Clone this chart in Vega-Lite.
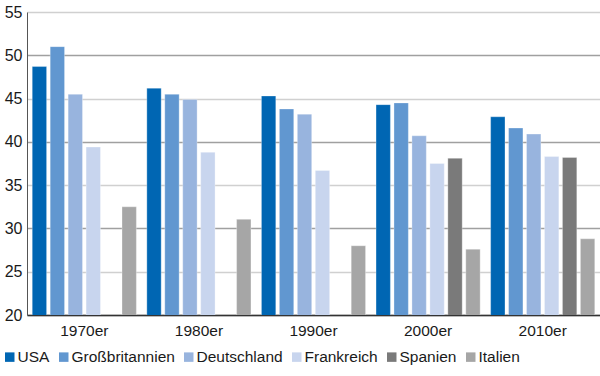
{
  "$schema": "https://vega.github.io/schema/vega-lite/v6.json",
  "width": 573,
  "height": 303,
  "autosize": "none",
  "padding": {"left": 27, "top": 12, "right": 0, "bottom": 61},
  "background": "white",
  "config": {
    "font": "Liberation Sans",
    "view": {"stroke": null},
    "axis": {"labelFont": "Liberation Sans", "labelFontSize": 15.5, "labelColor": "#1a1a1a", "ticks": false, "domainColor": "#333", "domainWidth": 1.5}
  },
  "data": {
    "values": [
      {"decade": "1970er", "country": "USA", "value": 48.7},
      {"decade": "1970er", "country": "Großbritannien", "value": 51.0},
      {"decade": "1970er", "country": "Deutschland", "value": 45.5},
      {"decade": "1970er", "country": "Frankreich", "value": 39.4},
      {"decade": "1970er", "country": "Italien", "value": 32.5},
      {"decade": "1980er", "country": "USA", "value": 46.2},
      {"decade": "1980er", "country": "Großbritannien", "value": 45.5},
      {"decade": "1980er", "country": "Deutschland", "value": 44.9},
      {"decade": "1980er", "country": "Frankreich", "value": 38.8},
      {"decade": "1980er", "country": "Italien", "value": 31.05},
      {"decade": "1990er", "country": "USA", "value": 45.3},
      {"decade": "1990er", "country": "Großbritannien", "value": 43.8},
      {"decade": "1990er", "country": "Deutschland", "value": 43.2},
      {"decade": "1990er", "country": "Frankreich", "value": 36.7},
      {"decade": "1990er", "country": "Italien", "value": 28.0},
      {"decade": "2000er", "country": "USA", "value": 44.3},
      {"decade": "2000er", "country": "Großbritannien", "value": 44.5},
      {"decade": "2000er", "country": "Deutschland", "value": 40.7},
      {"decade": "2000er", "country": "Frankreich", "value": 37.5},
      {"decade": "2000er", "country": "Spanien", "value": 38.1},
      {"decade": "2000er", "country": "Italien", "value": 27.6},
      {"decade": "2010er", "country": "USA", "value": 42.9},
      {"decade": "2010er", "country": "Großbritannien", "value": 41.6},
      {"decade": "2010er", "country": "Deutschland", "value": 40.9},
      {"decade": "2010er", "country": "Frankreich", "value": 38.3},
      {"decade": "2010er", "country": "Spanien", "value": 38.2},
      {"decade": "2010er", "country": "Italien", "value": 28.8}
    ]
  },
  "mark": {"type": "bar", "clip": true, "stroke": "white", "strokeWidth": 0.5, "strokeOpacity": 0.6},
  "encoding": {
    "x": {
      "field": "decade", "type": "nominal", "title": null,
      "scale": {"paddingInner": 0.06, "paddingOuter": 0.03},
      "axis": {"labelAngle": 0, "labelPadding": 8, "domain": true}
    },
    "xOffset": {
      "field": "country", "type": "nominal",
      "sort": ["USA", "Großbritannien", "Deutschland", "Frankreich", "Spanien", "Italien"],
      "scale": {"paddingInner": 0.2, "paddingOuter": 0.1}
    },
    "y": {
      "field": "value", "type": "quantitative", "title": null,
      "scale": {"domain": [20, 55], "nice": false, "zero": false},
      "axis": {
        "values": [20, 25, 30, 35, 40, 45, 50, 55],
        "labelPadding": 5,
        "labelFontSize": 16,
        "grid": true,
        "gridColor": {"condition": {"test": "datum.value % 10 === 0", "value": "#a0a0a0"}, "value": "#d0d0d0"},
        "gridWidth": 1.5,
        "domainColor": "#555",
        "domainWidth": 1
      }
    },
    "color": {
      "field": "country", "type": "nominal", "title": null,
      "sort": ["USA", "Großbritannien", "Deutschland", "Frankreich", "Spanien", "Italien"],
      "scale": {
        "domain": ["USA", "Großbritannien", "Deutschland", "Frankreich", "Spanien", "Italien"],
        "range": ["#0066b3", "#6197d0", "#98b4de", "#c8d5ee", "#7a7a7a", "#a6a6a6"]
      },
      "legend": {
        "orient": "none", "legendX": -25, "legendY": 337, "direction": "horizontal",
        "symbolType": "square", "symbolSize": 90, "symbolStrokeWidth": 0,
        "labelFontSize": 15.5, "labelColor": "#1a1a1a", "labelFont": "Liberation Sans",
        "columnPadding": 6, "labelOffset": 0, "columns": 6
      }
    }
  }
}
